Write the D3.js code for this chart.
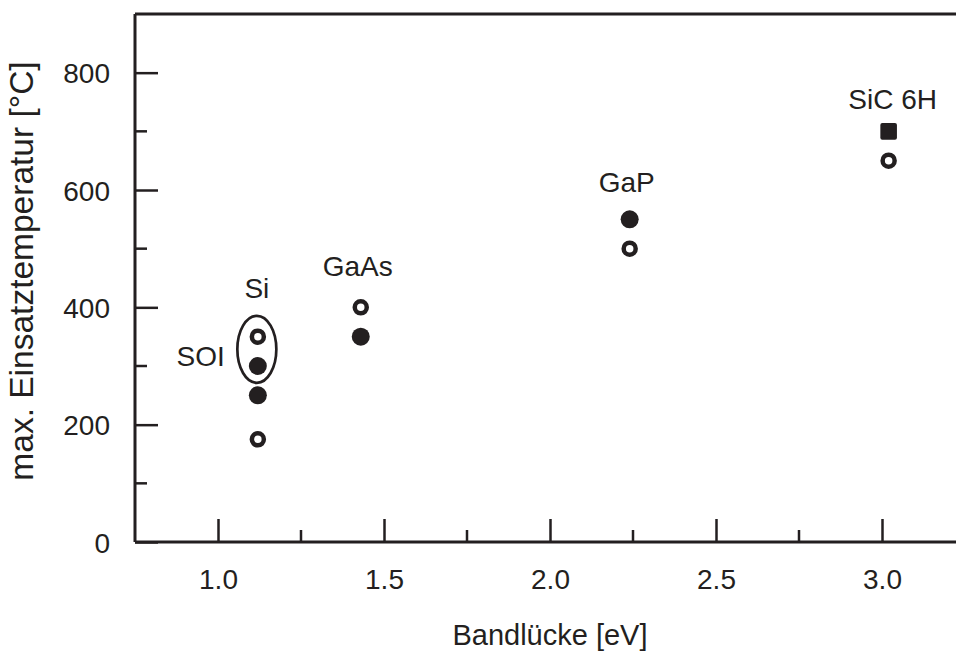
<!DOCTYPE html>
<html>
<head>
<meta charset="utf-8">
<script src="https://cdn.jsdelivr.net/npm/d3@7"></script>
<style>
  html, body { margin: 0; padding: 0; background: #fff; }
  svg { display: block; }
  text { font-family: "Liberation Sans", Arial, sans-serif; fill: #231f20; }
</style>
</head>
<body>
<svg id="chart" width="956" height="651"></svg>
<script>
// ---- data ----
const materials = ["Si", "GaAs", "GaP", "SiC 6H"];
const bandgaps = [1.12, 1.43, 2.24, 3.02];
const pointMaterial = ["Si", "Si", "Si", "Si", "GaAs", "GaAs", "GaP", "GaP", "SiC 6H", "SiC 6H"];
const pointTemp = [350, 300, 250, 175, 400, 350, 550, 500, 700, 650];
const pointKind = ["open", "filled", "filled", "open", "open", "filled", "filled", "open", "square", "open"];
const soiTemps = [350, 300];
const xTicks = [1.0, 1.5, 2.0, 2.5, 3.0];
const xMinorTicks = [1.25, 1.75, 2.25, 2.75];
const yTicks = [0, 200, 400, 600, 800];
const yMinorTicks = [100, 300, 500, 700];
const xTitle = "Bandlücke [eV]";
const yTitle = "max. Einsatztemperatur [°C]";

// ---- layout ----
const ink = "#231f20";
const mLeft = 135, mRight = 965, mTop = 14, mBottom = 542;
const x = d3.scaleLinear().domain([0.75, 3.25]).range([mLeft, mRight]);
const y = d3.scaleLinear().domain([0, 900]).range([mBottom, mTop]);
const svg = d3.select("#chart");
const gap = m => bandgaps[materials.indexOf(m)];

// axes frame
svg.append("line").attr("x1", mLeft).attr("x2", 960).attr("y1", mTop).attr("y2", mTop)
  .attr("stroke", ink).attr("stroke-width", 2.8);

const xAxis = svg.append("g").attr("transform", `translate(0,${mBottom})`)
  .call(d3.axisBottom(x).tickValues(xTicks).tickSize(-23).tickPadding(0).tickFormat(d3.format(".1f")));
const yAxis = svg.append("g").attr("transform", `translate(${mLeft},0)`)
  .call(d3.axisLeft(y).tickValues(yTicks).tickSize(-23).tickPadding(0).tickFormat(d3.format("d")));
[xAxis, yAxis].forEach(g => {
  g.select(".domain").attr("stroke", ink).attr("stroke-width", 3);
  g.selectAll(".tick line").attr("stroke", ink).attr("stroke-width", 2.5);
  g.selectAll(".tick text").attr("fill", ink).style("font-size", "28px")
    .style("font-family", '"Liberation Sans", Arial, sans-serif');
});
xAxis.selectAll(".tick text").attr("y", 47).attr("dy", 0);
yAxis.selectAll(".tick text").attr("x", -25).attr("dy", "0.36em");
xAxis.select(".domain").attr("d", `M${mLeft},0H960`);
yAxis.select(".domain").attr("d", `M0,${mBottom}V${mTop}`);

// minor ticks
svg.append("g").selectAll("line").data(xMinorTicks).join("line")
  .attr("x1", d => x(d)).attr("x2", d => x(d)).attr("y1", mBottom).attr("y2", mBottom - 12)
  .attr("stroke", ink).attr("stroke-width", 2.5);
svg.append("g").selectAll("line").data(yMinorTicks).join("line")
  .attr("y1", d => y(d)).attr("y2", d => y(d)).attr("x1", mLeft).attr("x2", mLeft + 12)
  .attr("stroke", ink).attr("stroke-width", 2.5);

// axis titles
svg.append("text").attr("x", 550).attr("y", 645).attr("text-anchor", "middle")
  .style("font-size", "29px").text(xTitle);
svg.append("text").attr("transform", "translate(33,271) rotate(-90)").attr("text-anchor", "middle")
  .style("font-size", "33.5px").text(yTitle);

// points
const pts = pointTemp.map((t, i) => ({ m: pointMaterial[i], t, k: pointKind[i] }));
const g = svg.append("g");
g.selectAll("circle.filled").data(pts.filter(d => d.k === "filled")).join("circle")
  .attr("class", "filled").attr("cx", d => x(gap(d.m))).attr("cy", d => y(d.t)).attr("r", 9)
  .attr("fill", ink);
g.selectAll("circle.open").data(pts.filter(d => d.k === "open")).join("circle")
  .attr("class", "open").attr("cx", d => x(gap(d.m))).attr("cy", d => y(d.t)).attr("r", 6)
  .attr("fill", "none").attr("stroke", ink).attr("stroke-width", 4.5);
g.selectAll("rect.square").data(pts.filter(d => d.k === "square")).join("rect")
  .attr("class", "square").attr("x", d => x(gap(d.m)) - 8.3).attr("y", d => y(d.t) - 8.3)
  .attr("width", 16.6).attr("height", 16.6).attr("rx", 2).attr("fill", ink);

// SOI ellipse
const soiMid = (soiTemps[0] + soiTemps[1]) / 2;
svg.append("ellipse").attr("cx", x(gap("Si")) - 1).attr("cy", y(soiMid) - 2)
  .attr("rx", 19.5).attr("ry", 33.5).attr("fill", "none").attr("stroke", ink).attr("stroke-width", 2.7);
svg.append("text").attr("x", x(gap("Si")) - 33).attr("y", y(soiTemps[1]))
  .attr("text-anchor", "end").style("font-size", "28px").text("SOI");

// material labels
const labelOffset = { "Si": [-1, -39], "GaAs": [-3, -31], "GaP": [-3, -27], "SiC 6H": [4, -22] };
materials.forEach(m => {
  const maxT = d3.max(pts.filter(d => d.m === m), d => d.t);
  const [dx, dy] = labelOffset[m];
  svg.append("text").attr("x", x(gap(m)) + dx).attr("y", y(maxT) + dy)
    .attr("text-anchor", "middle").style("font-size", "28px").text(m);
});
</script>
</body>
</html>
